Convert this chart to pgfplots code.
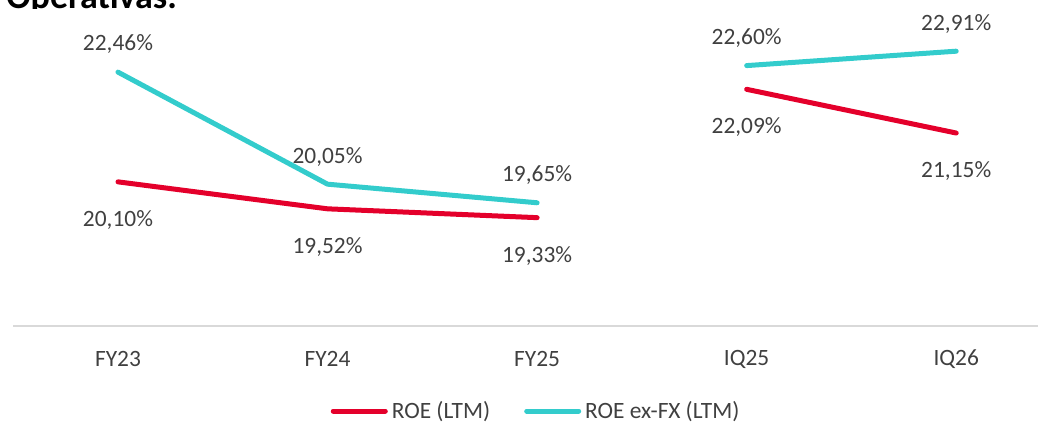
\documentclass[border=0pt]{standalone}
\usepackage{pgfplots}
\pgfplotsset{compat=1.18}
\usepackage{fontspec}
\setmainfont{Carlito}
\definecolor{roered}{HTML}{E4002B}
\definecolor{roecyan}{HTML}{33CCCC}
\definecolor{txt}{HTML}{404040}
\definecolor{axgray}{HTML}{D9D9D9}
\newcommand{\lblfont}{\fontsize{11.7}{14}\selectfont}
\begin{document}
\begin{tikzpicture}
\useasboundingbox (0,0) rectangle (519pt,-211pt);
\clip (0,0) rectangle (519pt,-211pt);
\begin{scope}
\clip (0,0) rectangle (120pt,-4.5pt);
\node[anchor=base west, inner sep=0, font=\fontsize{18}{20}\selectfont\bfseries] at (3pt,-4.5pt) {Operativas.};
\end{scope}
\begin{axis}[
  at={(6.6pt,-163pt)}, anchor=south west,
  scale only axis, width=523.9pt, height=162.75pt,
  xmin=-0.5, xmax=4.5, ymin=17, ymax=24,
  hide y axis,
  axis x line*=bottom,
  x axis line style={axgray, line width=1pt, -},
  xtick={0,1,2,3,4}, xticklabels={FY23,FY24,FY25,IQ25,IQ26},
  major tick length=0pt,
  xticklabel style={font=\lblfont, text=txt, anchor=center, yshift=-16.5pt},
  clip=false,
  point meta=y,
  nodes near coords={\pgfmathprintnumber[use comma, fixed, fixed zerofill, precision=2, assume math mode=true]{\pgfplotspointmeta}\%},
  legend columns=2,
  legend style={at={(axis description cs:0.5,0)}, anchor=center, yshift=-42.5pt, draw=none, fill=none,
    font=\lblfont, text=txt,
    /tikz/every even column/.append style={column sep=15pt}},
  legend image code/.code={\draw[#1, line width=2.5pt, line cap=round] (0pt,0pt) -- (26pt,0pt);},
]
\addplot[roered, line width=2.5pt, line cap=round, line join=round,
  every node near coord/.append style={anchor=center, yshift=-19pt, font=\lblfont, text=txt}]
  coordinates {(0,20.10) (1,19.52) (2,19.33)};
\addlegendentry{ROE (LTM)}
\addplot[roecyan, line width=2.5pt, line cap=round, line join=round,
  every node near coord/.append style={anchor=center, yshift=13.8pt, font=\lblfont, text=txt}]
  coordinates {(0,22.46) (1,20.05) (2,19.65)};
\addlegendentry{ROE ex-FX (LTM)}
\addplot[roered, line width=2.5pt, line cap=round, line join=round, forget plot,
  every node near coord/.append style={anchor=center, yshift=-19pt, font=\lblfont, text=txt}]
  coordinates {(3,22.09) (4,21.15)};
\addplot[roecyan, line width=2.5pt, line cap=round, line join=round, forget plot,
  every node near coord/.append style={anchor=center, yshift=13.8pt, font=\lblfont, text=txt}]
  coordinates {(3,22.60) (4,22.91)};
\end{axis}
\end{tikzpicture}
\end{document}
